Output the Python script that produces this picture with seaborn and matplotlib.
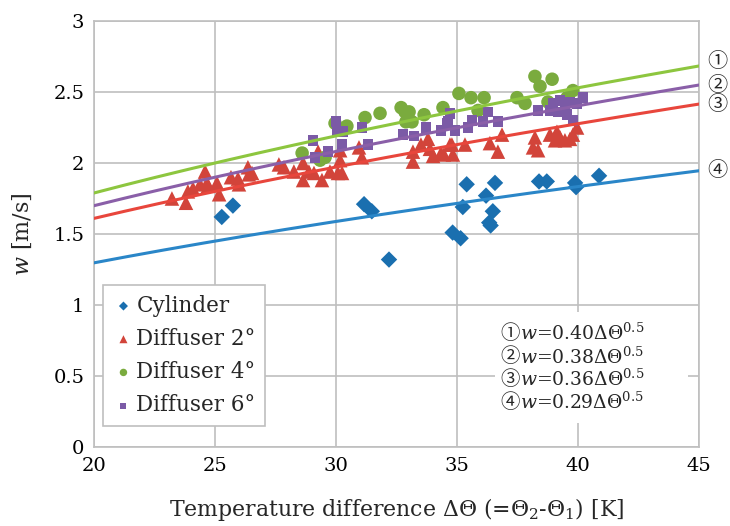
import numpy as np
import pandas as pd
import matplotlib
matplotlib.use("Agg")
import matplotlib.pyplot as plt
import seaborn as sns

# Cylinder
cyl_dt = [25.28, 25.74, 31.16, 31.48, 32.19, 34.82, 35.15, 35.24, 35.40, 36.20,
          36.57, 36.48, 36.33, 36.39, 38.39, 38.71, 39.88, 39.92, 40.87]
cyl_w = [1.62, 1.70, 1.71, 1.66, 1.32, 1.51, 1.47, 1.69, 1.85, 1.77,
         1.86, 1.66, 1.58, 1.56, 1.87, 1.87, 1.86, 1.83, 1.91]

# Diffuser 2deg
d2_dt = [23.22, 23.80, 24.59, 23.88, 24.09, 24.38, 24.67, 24.71, 25.08, 25.17,
         25.66, 25.95, 25.99, 26.36, 26.53, 26.40, 27.64, 27.85, 28.26, 28.64,
         28.64, 28.88, 29.09, 29.26, 29.42, 29.75, 30.08, 30.17, 30.17, 30.25,
         30.95, 31.07, 33.18, 33.18, 33.51, 33.80, 33.88, 34.01, 34.34, 34.46,
         34.71, 34.79, 34.83, 35.33, 36.36, 36.69, 36.86, 38.22, 38.14, 38.35,
         38.84, 39.05, 39.26, 39.46, 39.67, 39.79, 39.96, 39.13]
d2_w = [1.75, 1.72, 1.94, 1.80, 1.82, 1.85, 1.86, 1.84, 1.86, 1.78,
        1.90, 1.89, 1.85, 1.97, 1.93, 1.92, 1.99, 1.97, 1.94, 1.88,
        2.00, 1.94, 1.93, 2.08, 1.88, 1.94, 1.93, 2.02, 2.09, 1.93,
        2.11, 2.04, 2.08, 2.01, 2.13, 2.17, 2.10, 2.05, 2.07, 2.06,
        2.13, 2.13, 2.06, 2.13, 2.14, 2.08, 2.20, 2.18, 2.11, 2.09,
        2.20, 2.16, 2.18, 2.16, 2.17, 2.20, 2.25, 2.22]

# Diffuser 4deg
d4_dt = [28.60, 29.34, 29.55, 29.96, 30.45, 31.20, 31.82, 32.69, 32.85, 33.02,
         32.89, 33.14, 33.64, 34.42, 35.08, 35.58, 36.12, 35.87, 37.48, 37.81,
         38.22, 38.93, 38.43, 39.79, 38.76, 39.55]
d4_w = [2.07, 2.02, 2.04, 2.28, 2.26, 2.32, 2.35, 2.39, 2.36, 2.36,
        2.29, 2.29, 2.34, 2.39, 2.49, 2.46, 2.46, 2.37, 2.46, 2.42,
        2.61, 2.59, 2.54, 2.51, 2.43, 2.46]

# Diffuser 6deg
d6_dt = [29.05, 29.13, 29.67, 30.00, 30.04, 30.29, 30.25, 31.07, 31.32, 32.77,
         33.22, 33.72, 34.34, 34.59, 34.71, 34.92, 34.63, 35.62, 35.45, 36.07,
         36.28, 36.69, 38.35, 38.84, 38.97, 39.26, 39.46, 39.67, 39.96, 40.21,
         39.17, 39.79, 39.55]
d6_w = [2.16, 2.04, 2.08, 2.29, 2.22, 2.22, 2.13, 2.25, 2.13, 2.20,
        2.19, 2.25, 2.23, 2.28, 2.35, 2.23, 2.29, 2.30, 2.25, 2.29,
        2.36, 2.29, 2.37, 2.37, 2.42, 2.44, 2.39, 2.43, 2.42, 2.46,
        2.36, 2.30, 2.34]

# fitted curves w = c * dT^0.5
fit_coef = [0.40, 0.38, 0.36, 0.29]
fit_tags = ["①", "②", "③", "④"]
fit_colors = ["#8dc63f", "#8a5fa8", "#e8463c", "#2a86c8"]

sns.set_theme(style="white")
plt.rcParams["font.family"] = ["DejaVu Serif"]
plt.rcParams["mathtext.fontset"] = "dejavuserif"
tag_font = ["Noto Sans CJK JP", "DejaVu Sans"]

fig = plt.figure(figsize=(7.3, 5.26), dpi=100)
ax = fig.add_axes([94 / 730, 79 / 526, 605 / 730, 426 / 526])

series = [
    ("Cylinder", cyl_dt, cyl_w, "D", "#1a6faf", 70),
    ("Diffuser 2°", d2_dt, d2_w, "^", "#d2443a", 110),
    ("Diffuser 4°", d4_dt, d4_w, "o", "#7aab3e", 95),
    ("Diffuser 6°", d6_dt, d6_w, "s", "#7b5aa6", 60),
]
for name, xs, ys, mk, col, sz in series:
    df = pd.DataFrame({"dT": xs, "w": ys})
    sns.scatterplot(data=df, x="dT", y="w", marker=mk, color=col, s=sz,
                    edgecolor="none", label=name, ax=ax, zorder=2)

xx = np.linspace(20, 45, 200)
for c, col, tag in zip(fit_coef, fit_colors, fit_tags):
    sns.lineplot(x=xx, y=c * np.sqrt(xx), color=col, lw=2.2, ax=ax,
                 legend=False, zorder=3)
    yend = c * np.sqrt(45)
    ax.text(45.35, yend + (0.035 if tag == "①" else 0.0), tag, fontsize=14.5,
            family=tag_font, va="center", ha="left", clip_on=False)

ax.set_xlim(20, 45)
ax.set_ylim(0, 3)
ax.set_xticks(range(20, 46, 5))
ax.set_yticks([0, 0.5, 1, 1.5, 2, 2.5, 3])
ax.set_yticklabels(["0", "0.5", "1", "1.5", "2", "2.5", "3"])
ax.grid(True, color="#bfbfbf", lw=1.2)
ax.set_axisbelow(True)
for sp in ax.spines.values():
    sp.set_color("#bfbfbf")
    sp.set_linewidth(1.2)
ax.tick_params(length=0, labelsize=14, pad=7, colors="black")

ax.set_xlabel(r"Temperature difference Δ$\mathit{\Theta}$ (=$\mathit{\Theta}_2$-$\mathit{\Theta}_1$) [K]",
              fontsize=15.8, labelpad=15)
ax.set_ylabel(r"$w$ [m/s]", fontsize=16, labelpad=14)

leg = ax.legend(loc="upper left", bbox_to_anchor=(103 / 730, 1 - 285 / 526),
                bbox_transform=fig.transFigure, fontsize=15.5, markerscale=0.55,
                labelspacing=0.52, handletextpad=0.1, handlelength=1.0,
                borderpad=0.45, borderaxespad=0, fancybox=False, framealpha=1,
                edgecolor="#bfbfbf")
leg.get_frame().set_linewidth(1.2)

# equation box
eq_y = [0.80, 0.635, 0.475, 0.315]
ax.add_patch(plt.Rectangle((36.55, 0.17), 8.0, 0.78, facecolor="white",
                           edgecolor="none", zorder=1.5))
for c, tag, yy in zip(fit_coef, fit_tags, eq_y):
    ax.text(37.2, yy, tag, fontsize=14, family=tag_font,
            ha="center", va="center", zorder=4)
    ax.text(37.6, yy, r"$w$=%.2fΔ$\mathit{\Theta}^{0.5}$" % c, fontsize=13.5,
            ha="left", va="center", zorder=4)

fig.savefig("out.png", dpi=100)
